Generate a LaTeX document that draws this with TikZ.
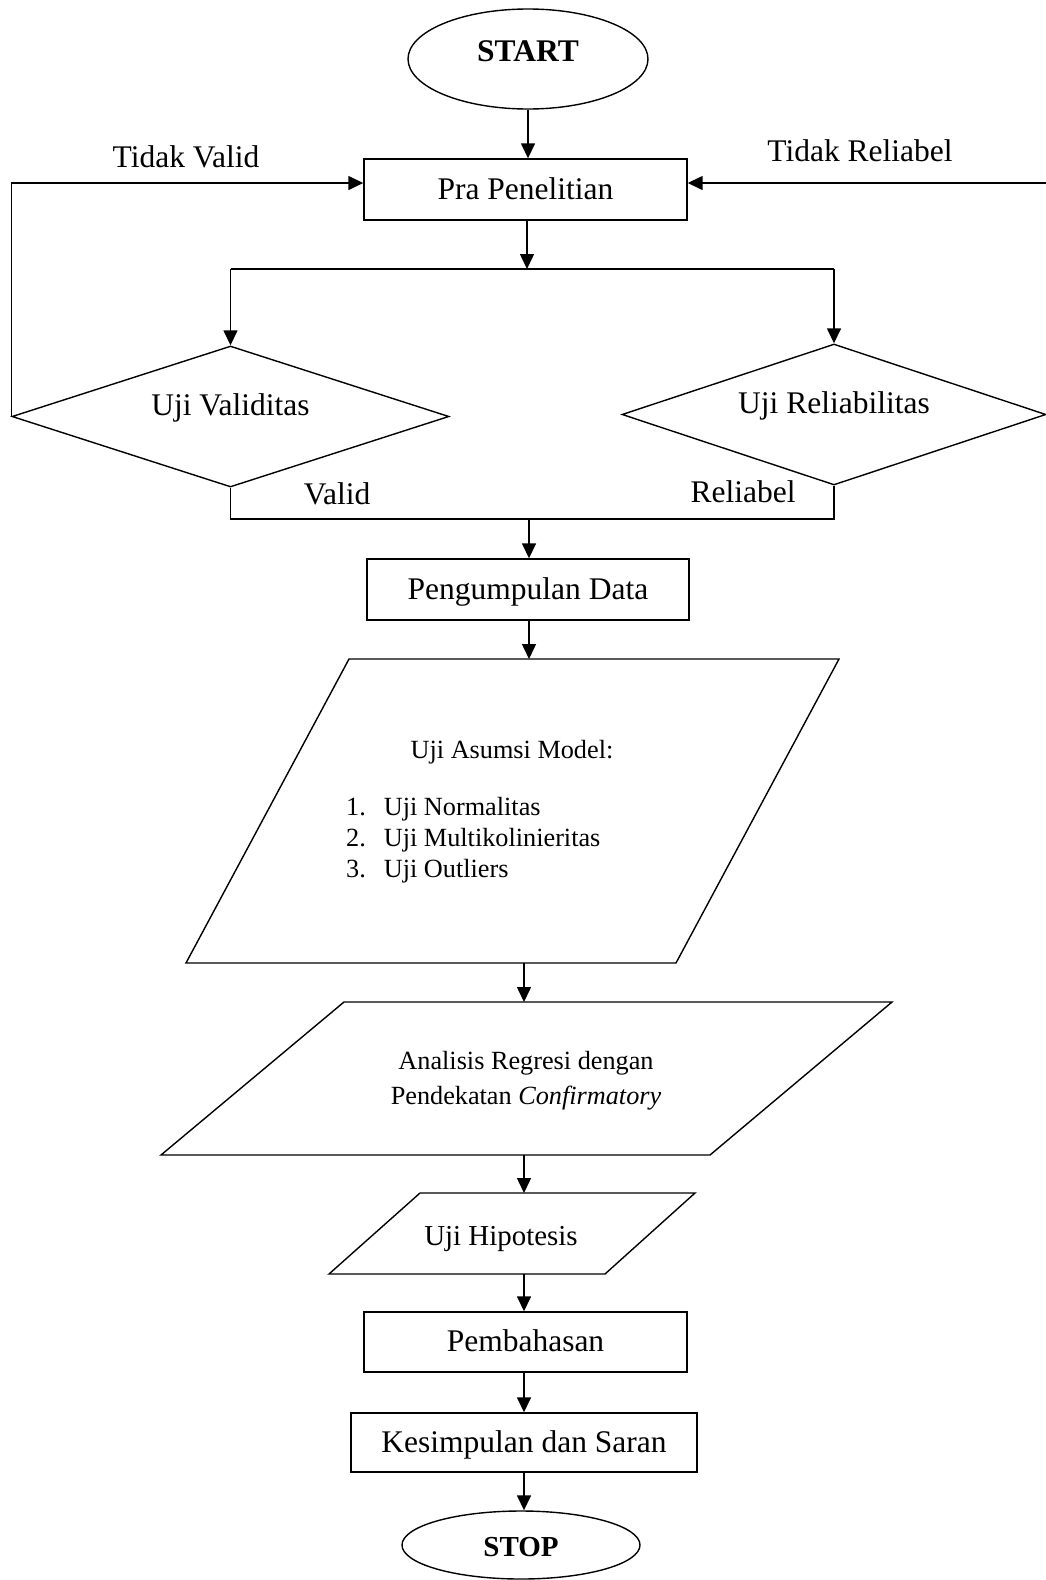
\documentclass[tikz,border=0pt]{standalone}
\usepackage{fontspec}
\setmainfont{Liberation Serif}
\usetikzlibrary{arrows.meta,shapes.geometric}
\tikzset{
  ln/.style={line width=1.4pt},
  arr/.style={line width=1.5pt,-{Triangle[length=15pt,width=14pt]}},
  box/.style={draw,ln,rectangle,inner sep=0pt,text height=21pt,text depth=2pt,font=\fontsize{31.5pt}{36pt}\selectfont},
  term/.style={draw,ln,ellipse,inner sep=0pt,font=\fontsize{31.5pt}{36pt}\selectfont\bfseries},
  dec/.style={draw,ln,diamond,aspect=3,inner sep=0pt,text height=21pt,text depth=24pt,font=\fontsize{31.5pt}{36pt}\selectfont},
  lbl/.style={inner sep=0pt,anchor=base,font=\fontsize{31.5pt}{36pt}\selectfont},
  small/.style={inner sep=0pt,font=\fontsize{26.25pt}{31pt}\selectfont},
}
\begin{document}
\begin{tikzpicture}[x=1pt,y=-1pt]
\useasboundingbox (0,0) rectangle (1046,1580);

% terminals and boxes
\node[term,minimum width=240pt,minimum height=100pt,text height=21pt,text depth=15.6pt] (start) at (528,59) {START};
\node[box,minimum width=323pt,minimum height=61pt] (pra) at (525.5,189.5) {Pra Penelitian};
\node[dec,minimum width=437pt,minimum height=141pt] (ld) at (230.5,416.5) {Uji Validitas};
\node[dec,minimum width=424pt,minimum height=141pt] (rd) at (834,414.5) {Uji Reliabilitas};
\node[box,minimum width=322pt,minimum height=61pt] (pd) at (528,589.5) {Pengumpulan Data};
\node[box,minimum width=323pt,minimum height=60pt] (pb) at (525.5,1342) {Pembahasan};
\node[box,minimum width=346pt,minimum height=59pt] (ks) at (524,1442.5) {Kesimpulan dan Saran};
\node[term,minimum width=238pt,minimum height=68pt,text height=24pt,text depth=0.6pt,font=\fontsize{29pt}{34pt}\selectfont\bfseries] (stop) at (521,1545) {STOP};

% labels
\node[lbl] (tv) at (186,167) {Tidak Valid};
\node[lbl] (tr) at (860,161.7) {Tidak Reliabel};
\node[lbl] (va) at (337,504) {Valid};
\node[lbl] (re) at (743,502) {Reliabel};

% parallelogram 1
\coordinate (p1t) at (524,659);
\coordinate (p1b) at (524,963);
\draw[ln] (349,659) -- (839,659) -- (676,963) -- (186,963) -- cycle;
\node[small,anchor=base] (am) at (512,758.3) {Uji Asumsi Model:};
\node[small,anchor=base west] (list) at (346,815.7) {\begin{tabular}[t]{@{}l@{\hspace{18pt}}l@{}}1. & Uji Normalitas\\ 2. & Uji Multikolinieritas\\ 3. & Uji Outliers\end{tabular}};

% parallelogram 2
\coordinate (p2t) at (524,1002);
\coordinate (p2b) at (524,1155);
\draw[ln] (344,1002) -- (892,1002) -- (710,1155) -- (161,1155) -- cycle;
\node[small,anchor=center,align=center,font=\fontsize{26.25pt}{35.4pt}\selectfont] (ar) at (526,1081) {Analisis Regresi dengan\\Pendekatan \textit{Confirmatory}};

% parallelogram 3
\coordinate (p3t) at (524,1193);
\coordinate (p3b) at (524,1274);
\draw[ln] (420,1193) -- (695,1193) -- (605,1274) -- (329,1274) -- cycle;
\node[inner sep=0pt,anchor=base,font=\fontsize{28.9pt}{34pt}\selectfont] (uh) at (501,1245) {Uji Hipotesis};

% connectors
\coordinate (sp) at (527,269);
\coordinate (mg) at (529,519);
\coordinate (redge) at (1046,183);
\draw[arr] (start.south) -- (start.south |- pra.north);
\draw[arr] (ld.west) |- ([yshift=6.5pt]pra.west);
\draw[arr] (redge) -- ([yshift=6.5pt]pra.east);
\draw[arr] (pra.south -| sp) -- (sp);
\draw[ln] (ld.north |- sp) -- (rd.north |- sp);
\draw[arr] (ld.north |- sp) -- (ld.north);
\draw[arr] (rd.north |- sp) -- (rd.north);
\draw[ln] (ld.south) -- (ld.south |- mg) -- (rd.south |- mg) -- (rd.south);
\draw[arr] (mg) -- (mg |- pd.north);
\draw[arr] (pd.south -| mg) -- (mg |- p1t);
\draw[arr] (p1b) -- (p2t);
\draw[arr] (p2b) -- (p3t);
\draw[arr] (p3b) -- (p3b |- pb.north);
\draw[arr] (p3b |- pb.south) -- (p3b |- ks.north);
\draw[arr] (p3b |- ks.south) -- (p3b |- stop.north);
\end{tikzpicture}
\end{document}
